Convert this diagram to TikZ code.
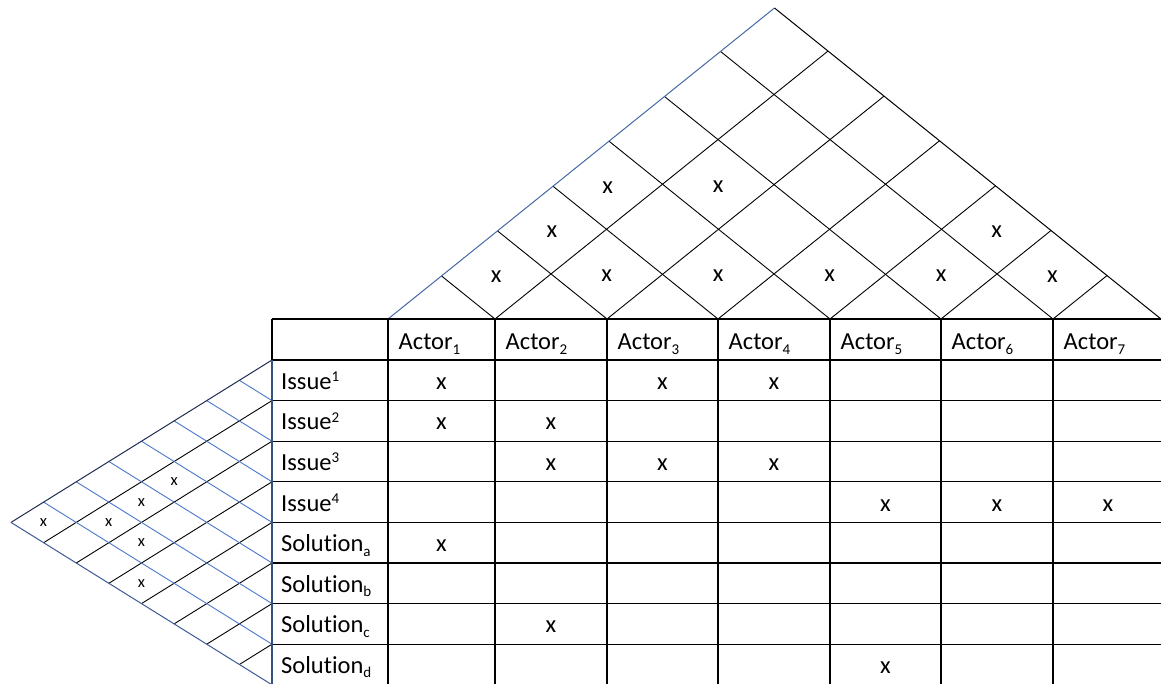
\documentclass[tikz,border=0pt]{standalone}
\usepackage{fontspec}
\setmainfont{Carlito}[Ligatures=NoCommon]
\definecolor{edgeblue}{RGB}{70,105,165}
\definecolor{navy}{RGB}{30,45,80}
\definecolor{lowblue}{RGB}{60,90,150}
\definecolor{gridblue}{RGB}{75,120,205}
\definecolor{borderblue}{RGB}{55,80,130}
\newcommand\mysub[1]{\raisebox{-4.5pt}{\fontsize{15}{15}\selectfont #1}}
\newcommand\mysup[1]{\raisebox{7.5pt}{\fontsize{15}{15}\selectfont #1}}
\tikzset{
  tableline/.style={line width=1.2pt, black},
  diagline/.style={line width=0.9pt, black},
  bluediag/.style={line width=0.9pt, gridblue},
  celltext/.style={inner sep=0pt, font=\fontsize{24.5}{29}\selectfont},
  xmark/.style={inner sep=0pt, font=\fontsize{24.5}{29}\selectfont},
  smallx/.style={inner sep=0pt, font=\fontsize{16.5}{18}\selectfont}
}
\begin{document}
\begin{tikzpicture}[x=1pt,y=-1pt]
\useasboundingbox (0,0) rectangle (1161,684);
\clip (0,0) rectangle (1161,684);
\fill[white] (0,0) rectangle (1161,684);

% ---------- top triangle ----------
\pgfmathsetmacro\k{311/386.5}
\coordinate (tl) at (388,319);
\coordinate (tr) at (1161,319);
\coordinate (tapex) at (774.5,8);
\foreach \b in {495,607,718,830,941,1053}{
  \pgfmathsetmacro\xr{(1161+\b)/2}
  \pgfmathsetmacro\yr{319-\k*(1161-\b)/2}
  \pgfmathsetmacro\xl{(388+\b)/2}
  \pgfmathsetmacro\yl{319-\k*(\b-388)/2}
  \coordinate (bp\b) at (\b,319);
  \coordinate (er\b) at (\xr,\yr);
  \coordinate (el\b) at (\xl,\yl);
  \draw[diagline] (bp\b) -- (er\b);
  \draw[diagline] (bp\b) -- (el\b);
}
\draw[line width=1pt, edgeblue] (tl) -- (tapex);
\draw[line width=1pt, black] (tapex) -- (tr);

% top triangle marks
\foreach \i/\j in {1/2,2/3,3/4,4/5,5/6,6/7,1/3,5/7,1/4,2/5}{
  \pgfmathsetmacro\ci{{441.5,551,662.5,774,885.5,997,1108}[\i-1]}
  \pgfmathsetmacro\cj{{441.5,551,662.5,774,885.5,997,1108}[\j-1]}
  \pgfmathsetmacro\xx{(\ci+\cj)/2}
  \pgfmathsetmacro\yy{319-\k*(\cj-\ci)/2+2}
  \node[xmark, name=tm\i\j] at (\xx,\yy) {x};
}

% ---------- left triangle ----------
\pgfmathsetmacro\kk{162.4/261}
\coordinate (lapex) at (11,522.4);
\coordinate (ltop) at (272,360);
\coordinate (lbot) at (272,684.8);
\foreach \n in {1,...,7}{
  \pgfmathsetmacro\r{360+\n*40.6}
  \pgfmathsetmacro\tb{(684.8-\r)/(2*\kk)}
  \pgfmathsetmacro\tu{(\r-360)/(2*\kk)}
  \coordinate (rp\n) at (272,\r);
  \coordinate (lb\n) at ({272-\tb},{\r+\kk*\tb});
  \coordinate (lu\n) at ({272-\tu},{\r-\kk*\tu});
  \draw[diagline] (rp\n) -- (lb\n);
  \draw[bluediag] (rp\n) -- (lu\n);
}
\draw[line width=1pt, navy] (lapex) -- (ltop);
\draw[line width=1pt, lowblue] (lapex) -- (lbot);

% left triangle marks
\foreach \i/\j in {1/8,2/7,2/6,2/5,3/7,4/8}{
  \pgfmathsetmacro\xx{272-(\j-\i)*32.64}
  \pgfmathsetmacro\yy{360+((\i+\j)/2-0.5)*40.6}
  \node[smallx, name=lm\i\j] at (\xx,\yy) {x};
}

% ---------- table ----------
\foreach \r in {319,360,400.6,441.2,481.8,522.4,563,603.6,644.2}{
  \draw[tableline] (272,\r) -- (1161,\r);
}
\foreach \c in {388,495,607,718,830,941,1053}{
  \draw[tableline] (\c,319) -- (\c,684.8);
}
\draw[tableline] (272,319) -- (272,360);
\draw[line width=1.4pt, borderblue] (272,360) -- (272,684.8);

% header
\foreach \c/\n in {388/1,495/2,607/3,718/4,830/5,941/6,1053/7}{
  \node[celltext, anchor=base west, name=actor\n] at (\c+10.5,349.5) {Actor\mysub{\n}};
}
% row labels
\node[celltext, anchor=base west, name=is1] at (281,{360+29.2}) {Issue\mysup{1}};
\node[celltext, anchor=base west, name=is2] at (281,{400.6+29.2}) {Issue\mysup{2}};
\node[celltext, anchor=base west, name=is3] at (281,{441.2+29.2}) {Issue\mysup{3}};
\node[celltext, anchor=base west, name=is4] at (281,{481.8+29.2}) {Issue\mysup{4}};
\node[celltext, anchor=base west, name=so1] at (281,{522.4+29.2}) {Solution\mysub{a}};
\node[celltext, anchor=base west, name=so2] at (281,{563+29.2}) {Solution\mysub{b}};
\node[celltext, anchor=base west, name=so3] at (281,{603.6+29.2}) {Solution\mysub{c}};
\node[celltext, anchor=base west, name=so4] at (281,{644.2+29.2}) {Solution\mysub{d}};

% table marks
\foreach \r/\c in {1/1,1/3,1/4,2/1,2/2,3/2,3/3,3/4,4/5,4/6,4/7,5/1,7/2,8/5}{
  \pgfmathsetmacro\yy{360+(\r-1)*40.6+29.2}
  \pgfmathsetmacro\xx{{441.5,551,662.5,774,885.5,997,1108}[\c-1]}
  \node[xmark, anchor=base, name=tx\r\c] at (\xx,\yy) {x};
}
\end{tikzpicture}
\end{document}
